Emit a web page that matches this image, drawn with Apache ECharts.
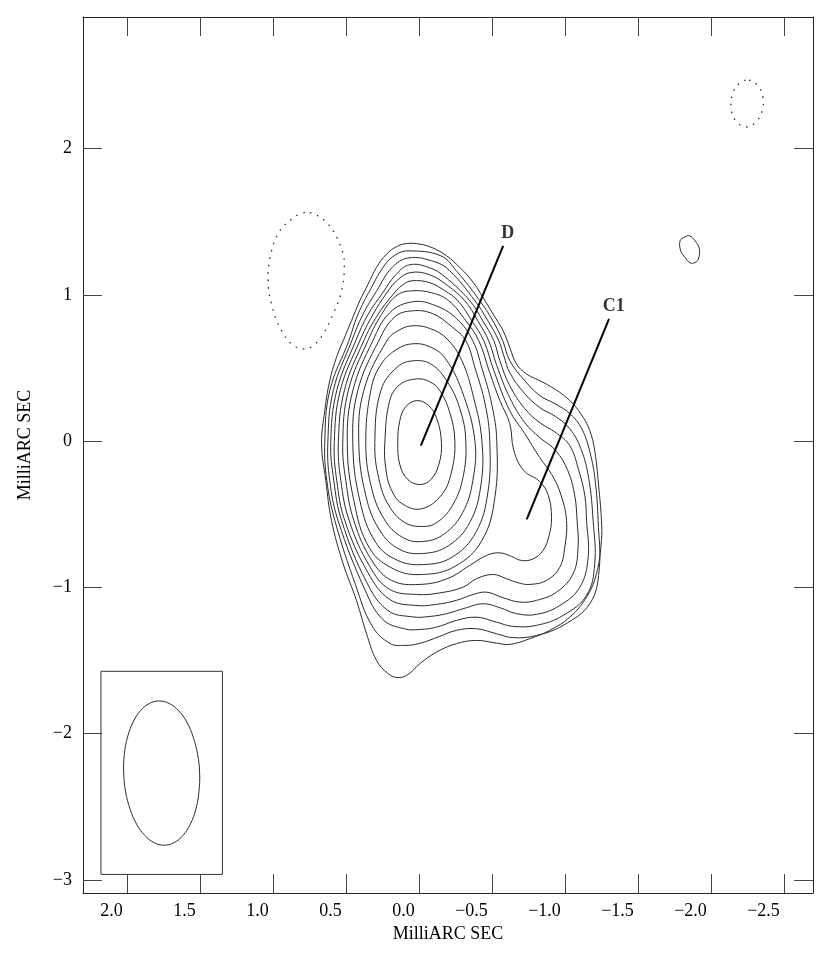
<!DOCTYPE html>
<html>
<head>
<meta charset="utf-8">
<title>VLBI contour map</title>
<script src="https://cdn.jsdelivr.net/npm/echarts@6/dist/echarts.min.js"></script>
<style>
  html, body { margin: 0; padding: 0; background: #fff; }
  #map_echart { width: 830px; height: 953px; }
</style>
</head>
<body>
<div id="map_echart"></div>
<script>
// tick positions (milliarcsec)
const xTicks = [2, 1.5, 1, 0.5, 0, -0.5, -1, -1.5, -2, -2.5];
const yTicks = [2, 1, 0, -1, -2, -3];

// positive contours, outermost (1) to innermost (14), [RA offset, Dec offset]
const contour1 = [[0.666,-0.019],[0.644,0.208],[0.610,0.413],[0.564,0.572],[0.518,0.686],[0.461,0.823],[0.404,0.960],[0.347,1.074],[0.290,1.187],[0.221,1.279],[0.153,1.329],[0.084,1.351],[-0.007,1.347],[-0.098,1.320],[-0.190,1.267],[-0.281,1.187],[-0.373,1.085],[-0.440,0.982],[-0.509,0.869],[-0.577,0.755],[-0.623,0.641],[-0.669,0.527],[-0.738,0.459],[-0.851,0.402],[-0.966,0.333],[-1.057,0.254],[-1.125,0.163],[-1.171,0.072],[-1.205,-0.065],[-1.235,-0.338],[-1.251,-0.543],[-1.251,-0.680],[-1.217,-0.907],[-1.149,-1.067],[-1.034,-1.204],[-0.897,-1.294],[-0.760,-1.351],[-0.623,-1.390],[-0.532,-1.381],[-0.395,-1.363],[-0.258,-1.385],[-0.121,-1.443],[-0.007,-1.522],[0.073,-1.595],[0.142,-1.617],[0.210,-1.590],[0.290,-1.499],[0.358,-1.317],[0.427,-1.089],[0.518,-0.839],[0.598,-0.543],[0.637,-0.270],[0.666,-0.019]];
const contour2 = [[0.644,-0.010],[0.610,0.345],[0.479,0.686],[0.418,0.864],[0.329,1.042],[0.233,1.205],[0.158,1.274],[0.075,1.301],[-0.151,1.267],[-0.260,1.161],[-0.418,0.960],[-0.507,0.823],[-0.575,0.686],[-0.623,0.550],[-0.726,0.413],[-0.829,0.311],[-0.932,0.256],[-1.034,0.188],[-1.116,0.085],[-1.178,-0.099],[-1.212,-0.304],[-1.228,-0.543],[-1.235,-0.885],[-1.171,-1.112],[-0.988,-1.260],[-0.806,-1.329],[-0.646,-1.344],[-0.532,-1.317],[-0.395,-1.283],[-0.258,-1.294],[-0.144,-1.335],[-0.007,-1.383],[0.096,-1.397],[0.199,-1.383],[0.322,-1.260],[0.432,-0.987],[0.575,-0.543],[0.630,-0.270],[0.644,-0.010]];
const contour3 = [[0.623,-0.010],[0.586,0.345],[0.459,0.686],[0.384,0.864],[0.288,1.028],[0.185,1.185],[0.068,1.253],[-0.110,1.226],[-0.212,1.165],[-0.384,0.960],[-0.473,0.823],[-0.548,0.686],[-0.582,0.584],[-0.623,0.468],[-0.726,0.324],[-0.829,0.229],[-0.938,0.167],[-1.034,0.085],[-1.110,-0.051],[-1.164,-0.256],[-1.194,-0.543],[-1.205,-0.839],[-1.149,-1.055],[-0.988,-1.192],[-0.806,-1.260],[-0.646,-1.267],[-0.532,-1.238],[-0.395,-1.204],[-0.258,-1.226],[-0.121,-1.272],[-0.007,-1.288],[0.096,-1.284],[0.247,-1.219],[0.370,-1.014],[0.553,-0.543],[0.610,-0.270],[0.623,-0.010]];
const contour4 = [[0.603,-0.010],[0.562,0.345],[0.432,0.686],[0.349,0.864],[0.247,1.014],[0.158,1.137],[0.062,1.206],[-0.075,1.185],[-0.178,1.124],[-0.349,0.960],[-0.438,0.823],[-0.514,0.686],[-0.555,0.550],[-0.623,0.379],[-0.726,0.222],[-0.829,0.126],[-0.938,0.058],[-1.034,-0.031],[-1.096,-0.202],[-1.137,-0.372],[-1.149,-0.543],[-1.160,-0.794],[-1.103,-0.999],[-0.966,-1.124],[-0.806,-1.185],[-0.669,-1.180],[-0.555,-1.139],[-0.440,-1.112],[-0.327,-1.139],[-0.190,-1.180],[-0.075,-1.199],[0.041,-1.202],[0.212,-1.158],[0.356,-0.967],[0.529,-0.543],[0.582,-0.270],[0.603,-0.010]];
const contour5 = [[0.579,-0.010],[0.538,0.345],[0.404,0.686],[0.315,0.864],[0.219,1.014],[0.144,1.103],[0.055,1.153],[-0.075,1.137],[-0.199,1.062],[-0.315,0.960],[-0.404,0.823],[-0.479,0.686],[-0.534,0.516],[-0.623,0.297],[-0.726,0.126],[-0.829,0.024],[-0.938,-0.065],[-1.021,-0.202],[-1.068,-0.372],[-1.084,-0.543],[-1.091,-0.725],[-1.057,-0.907],[-0.943,-1.033],[-0.806,-1.089],[-0.692,-1.101],[-0.577,-1.071],[-0.464,-1.033],[-0.372,-1.049],[-0.258,-1.089],[-0.116,-1.117],[0.021,-1.124],[0.199,-1.083],[0.349,-0.898],[0.507,-0.543],[0.562,-0.270],[0.579,-0.010]];
const contour6 = [[0.551,-0.010],[0.510,0.345],[0.377,0.686],[0.281,0.864],[0.178,1.001],[0.115,1.065],[0.048,1.096],[-0.075,1.083],[-0.178,1.028],[-0.267,0.960],[-0.363,0.823],[-0.445,0.686],[-0.514,0.482],[-0.623,0.208],[-0.726,0.051],[-0.829,-0.113],[-0.911,-0.229],[-0.973,-0.365],[-1.012,-0.543],[-1.000,-0.725],[-0.966,-0.862],[-0.875,-0.953],[-0.760,-0.980],[-0.685,-0.970],[-0.601,-0.941],[-0.509,-0.912],[-0.395,-0.941],[-0.303,-0.999],[-0.144,-1.038],[0.007,-1.049],[0.199,-1.014],[0.336,-0.857],[0.477,-0.543],[0.534,-0.270],[0.551,-0.010]];
const contour7 = [[0.521,-0.010],[0.483,0.345],[0.349,0.686],[0.240,0.891],[0.144,1.001],[0.041,1.028],[-0.089,1.014],[-0.205,0.960],[-0.322,0.823],[-0.411,0.686],[-0.486,0.468],[-0.555,0.277],[-0.623,0.120],[-0.651,-0.065],[-0.719,-0.201],[-0.829,-0.277],[-0.887,-0.372],[-0.909,-0.523],[-0.892,-0.646],[-0.851,-0.748],[-0.781,-0.806],[-0.703,-0.816],[-0.635,-0.789],[-0.555,-0.764],[-0.464,-0.782],[-0.349,-0.850],[-0.199,-0.939],[-0.007,-0.980],[0.185,-0.953],[0.322,-0.816],[0.445,-0.543],[0.500,-0.270],[0.521,-0.010]];
const contour8 = [[0.490,-0.010],[0.452,0.345],[0.315,0.686],[0.199,0.878],[0.041,0.953],[-0.116,0.926],[-0.260,0.837],[-0.370,0.686],[-0.432,0.500],[-0.500,0.250],[-0.534,0.003],[-0.521,-0.386],[-0.432,-0.680],[-0.247,-0.857],[-0.027,-0.912],[0.164,-0.878],[0.336,-0.734],[0.445,-0.406],[0.490,-0.010]];
const contour9 = [[0.452,-0.010],[0.418,0.345],[0.274,0.686],[0.164,0.850],[0.041,0.891],[-0.096,0.871],[-0.226,0.782],[-0.322,0.686],[-0.385,0.500],[-0.455,0.250],[-0.486,0.003],[-0.473,-0.352],[-0.390,-0.625],[-0.226,-0.795],[-0.034,-0.844],[0.144,-0.816],[0.295,-0.693],[0.404,-0.406],[0.452,-0.010]];
const contour10 = [[0.411,-0.010],[0.377,0.345],[0.219,0.686],[0.130,0.762],[0.034,0.789],[-0.082,0.768],[-0.192,0.700],[-0.295,0.550],[-0.375,0.300],[-0.432,0.003],[-0.425,-0.304],[-0.349,-0.557],[-0.205,-0.714],[-0.034,-0.768],[0.130,-0.741],[0.267,-0.611],[0.363,-0.372],[0.411,-0.010]];
const contour11 = [[0.363,-0.010],[0.329,0.345],[0.260,0.523],[0.144,0.632],[0.034,0.666],[-0.075,0.645],[-0.178,0.570],[-0.295,0.345],[-0.384,0.003],[-0.370,-0.270],[-0.301,-0.488],[-0.178,-0.632],[-0.034,-0.686],[0.110,-0.659],[0.240,-0.529],[0.329,-0.297],[0.363,-0.010]];
const contour12 = [[0.301,-0.010],[0.260,0.345],[0.144,0.509],[0.027,0.550],[-0.089,0.523],[-0.199,0.400],[-0.281,0.222],[-0.322,0.003],[-0.301,-0.256],[-0.226,-0.447],[-0.123,-0.557],[-0.027,-0.584],[0.096,-0.557],[0.205,-0.441],[0.274,-0.256],[0.301,-0.010]];
const contour13 = [[0.233,-0.017],[0.199,0.277],[0.130,0.386],[0.016,0.425],[-0.075,0.406],[-0.144,0.345],[-0.212,0.195],[-0.247,0.003],[-0.226,-0.202],[-0.158,-0.365],[-0.018,-0.463],[0.116,-0.427],[0.192,-0.324],[0.226,-0.188],[0.233,-0.017]];
const contour14 = [[0.144,-0.010],[0.130,0.140],[0.089,0.236],[0.010,0.277],[-0.068,0.242],[-0.123,0.154],[-0.155,-0.010],[-0.137,-0.161],[-0.082,-0.263],[-0.007,-0.297],[0.075,-0.263],[0.130,-0.161],[0.144,-0.010]];

// small isolated positive contour, upper right
const blobContour = [[-1.790,1.370],[-1.824,1.397],[-1.853,1.404],[-1.892,1.370],[-1.922,1.313],[-1.915,1.245],[-1.892,1.221],[-1.858,1.219],[-1.824,1.255],[-1.794,1.301],[-1.790,1.370]];

// negative (dotted) contours
const negContourA = [[0.746,1.563],[0.621,1.484],[0.525,1.301],[0.511,1.165],[0.534,1.005],[0.587,0.869],[0.655,0.732],[0.724,0.652],[0.792,0.630],[0.872,0.664],[0.952,0.777],[1.009,0.937],[1.032,1.096],[1.014,1.279],[0.952,1.438],[0.872,1.518],[0.815,1.552],[0.746,1.563]];
const negContourB = [[-2.262,2.469],[-2.324,2.428],[-2.358,2.346],[-2.351,2.257],[-2.310,2.182],[-2.242,2.148],[-2.173,2.189],[-2.139,2.278],[-2.152,2.380],[-2.200,2.449],[-2.262,2.469]];

// restoring beam outline and its box
const beamEllipse = [[1.778,-1.777],[1.845,-1.794],[1.906,-1.843],[1.957,-1.921],[1.995,-2.024],[2.017,-2.142],[2.021,-2.270],[2.008,-2.398],[1.977,-2.517],[1.933,-2.619],[1.876,-2.697],[1.812,-2.746],[1.744,-2.763],[1.677,-2.746],[1.616,-2.697],[1.565,-2.619],[1.527,-2.517],[1.506,-2.398],[1.501,-2.270],[1.515,-2.142],[1.545,-2.024],[1.589,-1.921],[1.646,-1.843],[1.710,-1.794],[1.778,-1.777]];
const beamBox = [[2.177,-1.574],[1.345,-1.574],[1.345,-2.963],[2.177,-2.963],[2.177,-1.574]];

// component labels and pointer lines
const componentNames = ['D', 'C1'];
const componentLabelPos = [[-0.61, 1.42], [-1.335, 0.92]];
const pointerD = [[-0.578, 1.335], [-0.014, -0.031]];
const pointerC1 = [[-1.303, 0.835], [-0.739, -0.536]];

const serif = '"Liberation Serif", "DejaVu Serif", "Times New Roman", serif';
const MINUS = '\u2212';

function fmtX(v) {
  return (v < 0 ? MINUS : '') + Math.abs(v).toFixed(1);
}
function fmtY(v) {
  return (v < 0 ? MINUS : '') + Math.abs(v);
}

// closed curves drawn as smoothed polygons
const rings = [contour1, contour2, contour3, contour4, contour5, contour6, contour7,
  contour8, contour9, contour10, contour11, contour12, contour13, contour14, blobContour]
  .map((c) => ({ pts: c, dash: null }));
rings.push({ pts: negContourA, dash: [1.5, 6] });
rings.push({ pts: negContourB, dash: [1.5, 6] });
rings.push({ pts: beamEllipse, dash: null });

function renderRing(params, api) {
  const ring = rings[api.value(2)];
  const src = ring.pts.slice(0, ring.pts.length - 1); // last point repeats the first
  const points = src.map((p) => api.coord(p));
  return {
    type: 'polygon',
    shape: { points: points, smooth: 0.4 },
    style: {
      fill: 'none',
      stroke: '#2b2b2b',
      lineWidth: ring.dash ? 1.3 : 1,
      lineDash: ring.dash,
    },
    silent: true,
  };
}

function straightLine(data, color, width) {
  return {
    type: 'line',
    data: data,
    symbol: 'none',
    showSymbol: false,
    silent: true,
    lineStyle: { color: color, width: width },
    z: 4,
  };
}

const series = [
  {
    type: 'custom',
    renderItem: renderRing,
    data: rings.map((r, i) => [r.pts[0][0], r.pts[0][1], i]),
    encode: { x: 0, y: 1 },
    silent: true,
    z: 3,
  },
  straightLine(beamBox, '#333', 1),
  straightLine(pointerD, '#000', 2),
  straightLine(pointerC1, '#000', 2),
  {
    type: 'scatter',
    symbolSize: 1,
    itemStyle: { color: 'transparent' },
    silent: true,
    data: componentNames.map((n, i) => ({ name: n, value: componentLabelPos[i] })),
    label: {
      show: true,
      position: 'inside',
      formatter: '{b}',
      color: '#000',
      fontFamily: serif,
      fontWeight: 'bold',
      fontSize: 18,
    },
    z: 5,
  },
];

const axisLineStyle = { show: true, onZero: false, lineStyle: { color: '#222', width: 1 } };
const tickStyle = { color: '#444', width: 1 };

let myChart = echarts.init(document.getElementById('map_echart'));
myChart.setOption({
  animation: false,
  backgroundColor: '#fff',
  grid: { left: 83, right: 17, top: 17, bottom: 60, containLabel: false },
  xAxis: [
    {
      type: 'value',
      position: 'bottom',
      inverse: true,
      min: -2.7,
      max: 2.3,
      axisLine: axisLineStyle,
      axisTick: { show: true, inside: true, length: 19, customValues: xTicks, lineStyle: tickStyle },
      axisLabel: {
        customValues: xTicks,
        formatter: fmtX,
        fontFamily: serif,
        fontSize: 18,
        color: '#000',
        margin: 9,
        align: 'right',
        padding: [0, 4, 0, 0],
      },
      splitLine: { show: false },
      name: 'MilliARC SEC',
      nameLocation: 'middle',
      nameGap: 30,
      nameTextStyle: { fontFamily: serif, fontSize: 18, color: '#000' },
    },
    {
      type: 'value',
      position: 'top',
      inverse: true,
      min: -2.7,
      max: 2.3,
      axisLine: axisLineStyle,
      axisTick: { show: true, inside: true, length: 19, customValues: xTicks, lineStyle: tickStyle },
      axisLabel: { show: false },
      splitLine: { show: false },
    },
  ],
  yAxis: [
    {
      type: 'value',
      position: 'left',
      min: -3.09,
      max: 2.9,
      axisLine: axisLineStyle,
      axisTick: { show: true, inside: true, length: 19, customValues: yTicks, lineStyle: tickStyle },
      axisLabel: {
        customValues: yTicks,
        formatter: fmtY,
        fontFamily: serif,
        fontSize: 18,
        color: '#000',
        margin: 11,
      },
      splitLine: { show: false },
      name: 'MilliARC SEC',
      nameLocation: 'middle',
      nameGap: 49,
      nameTextStyle: { fontFamily: serif, fontSize: 18, color: '#000', padding: [0, 0, 0, 20] },
    },
    {
      type: 'value',
      position: 'right',
      min: -3.09,
      max: 2.9,
      axisLine: axisLineStyle,
      axisTick: { show: true, inside: true, length: 19, customValues: yTicks, lineStyle: tickStyle },
      axisLabel: { show: false },
      splitLine: { show: false },
    },
  ],
  series: series,
});
</script>
</body>
</html>
